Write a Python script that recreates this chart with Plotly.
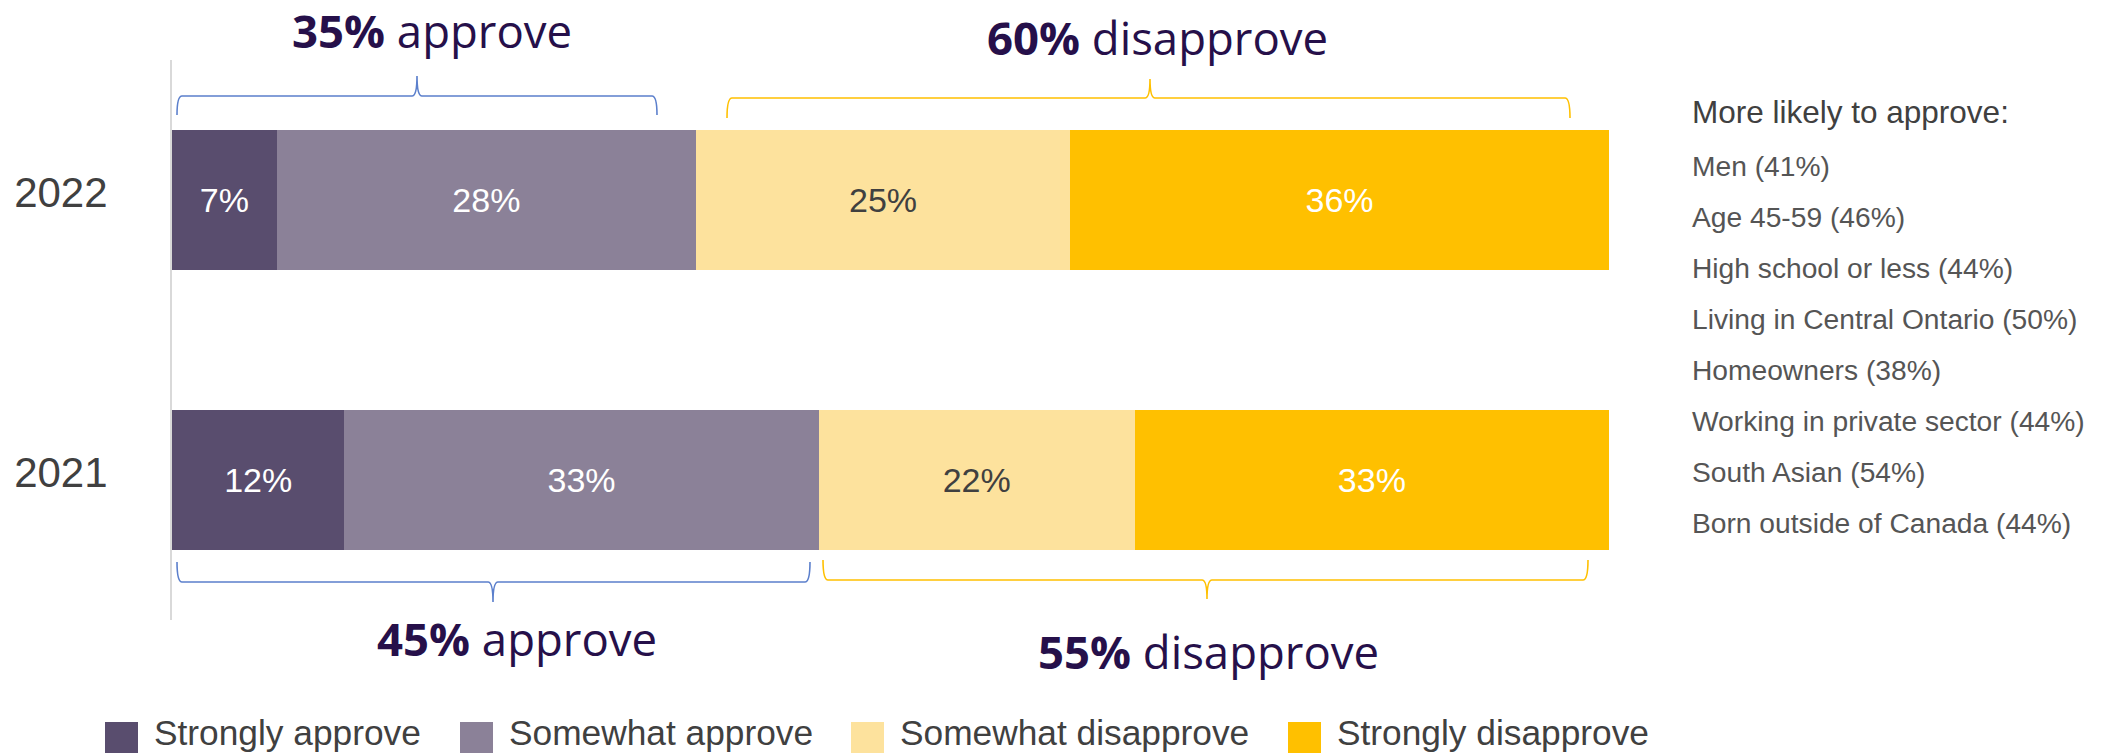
import plotly.graph_objects as go

# ---------------- data ----------------
years = ["2022", "2021"]
series_names = ["Strongly approve", "Somewhat approve", "Somewhat disapprove", "Strongly disapprove"]
strongly_approve = [7, 12]
somewhat_approve = [28, 33]
somewhat_disapprove = [25, 22]
strongly_disapprove = [36, 33]
series_values = [strongly_approve, somewhat_approve, somewhat_disapprove, strongly_disapprove]

summary_top = ["35%", "approve", "60%", "disapprove"]       # 2022
summary_bottom = ["45%", "approve", "55%", "disapprove"]    # 2021

likely_header = "More likely to approve:"
likely_items = [
    "Men (41%)",
    "Age 45-59 (46%)",
    "High school or less (44%)",
    "Living in Central Ontario (50%)",
    "Homeowners (38%)",
    "Working in private sector (44%)",
    "South Asian (54%)",
    "Born outside of Canada (44%)",
]

# ---------------- style ----------------
colors = ["#594D6E", "#8B8198", "#FDE29D", "#FFC000"]
text_colors = ["#FFFFFF", "#FFFFFF", "#404040", "#FFFFFF"]
PURPLE = "#26104A"
BLUE = "#5B7FCC"
YELLOW = "#FFC000"
GRAY = "#404040"
BASE_FONT = "Arial, Liberation Sans, sans-serif"
TITLE_FONT = "Open Sans, sans-serif"

W, H = 2104, 754
L, R, T, B = 172, 495, 60, 134
PW, PH = W - L - R, H - T - B


def px(x):
    return (x - L) / PW


def py(y):
    return (H - B - y) / PH


fig = go.Figure()
for name, vals, col, tcol in zip(series_names, series_values, colors, text_colors):
    fig.add_trace(go.Bar(
        y=years, x=vals, name=name, orientation="h",
        marker=dict(color=col, line=dict(width=0)),
        text=[f"{v}%" for v in vals],
        textposition="inside", insidetextanchor="middle", textangle=0,
        constraintext="none",
        textfont=dict(family=BASE_FONT, size=34, color=tcol),
        showlegend=False, hoverinfo="skip",
    ))


# ---------------- braces ----------------
def brace(x0, x1, xm, y_end, y_h, y_peak, color):
    r = 5
    pts = [
        f"M {px(x0)},{py(y_end)}",
        f"Q {px(x0)},{py(y_h)} {px(x0 + r)},{py(y_h)}",
        f"L {px(xm - r)},{py(y_h)}",
        f"Q {px(xm)},{py(y_h)} {px(xm)},{py(y_peak)}",
        f"Q {px(xm)},{py(y_h)} {px(xm + r)},{py(y_h)}",
        f"L {px(x1 - r)},{py(y_h)}",
        f"Q {px(x1)},{py(y_h)} {px(x1)},{py(y_end)}",
    ]
    return dict(type="path", xref="paper", yref="paper", path=" ".join(pts),
                line=dict(color=color, width=1.6))


shapes = [
    brace(177, 657, 417, 115, 96, 76, BLUE),
    brace(727, 1570, 1150, 118, 98, 79, YELLOW),
    brace(177, 810, 493, 562, 582, 602, BLUE),
    brace(823, 1588, 1207, 560, 580, 599, YELLOW),
]

annotations = []


def big_label(num, word, xc, yc):
    annotations.append(dict(
        xref="paper", yref="paper", x=px(xc), y=py(yc), xanchor="center", yanchor="middle",
        text=f"<b>{num}</b> {word}", showarrow=False,
        font=dict(family=TITLE_FONT, size=45.5, color=PURPLE),
    ))


big_label(summary_top[0], summary_top[1], 432, 30)
big_label(summary_top[2], summary_top[3], 1157, 37)
big_label(summary_bottom[0], summary_bottom[1], 517, 638)
big_label(summary_bottom[2], summary_bottom[3], 1208, 651)

# right-hand list
annotations.append(dict(
    xref="paper", yref="paper", x=px(1690), y=py(112), xanchor="left", yanchor="middle",
    text=likely_header, showarrow=False,
    font=dict(family=BASE_FONT, size=31.5, color=GRAY),
))
for i, item in enumerate(likely_items):
    annotations.append(dict(
        xref="paper", yref="paper", x=px(1690), y=py(166 + i * 51), xanchor="left", yanchor="middle",
        text=item, showarrow=False,
        font=dict(family=BASE_FONT, size=28.2, color="#555555"),
    ))

# manual legend
legend_x = [105, 460, 851, 1288]
for name, col, lx in zip(series_names, colors, legend_x):
    shapes.append(dict(type="rect", xref="paper", yref="paper",
                       x0=px(lx), x1=px(lx + 33), y0=py(753), y1=py(722),
                       fillcolor=col, line=dict(width=0)))
    annotations.append(dict(
        xref="paper", yref="paper", x=px(lx + 47), y=py(754), xanchor="left", yanchor="bottom",
        text=name, showarrow=False,
        font=dict(family=BASE_FONT, size=35.3, color=GRAY),
    ))

fig.update_layout(
    width=W, height=H,
    margin=dict(l=L, r=R, t=T, b=B),
    barmode="stack", barnorm="percent", bargap=0.5,
    plot_bgcolor="white", paper_bgcolor="white",
    xaxis=dict(range=[0, 100], visible=False, fixedrange=True),
    yaxis=dict(autorange="reversed", showline=True, linecolor="#D9D9D9", linewidth=2,
               showgrid=False, zeroline=False, ticks="", ticklabelstandoff=54,
               ticklabelshift=8,
               tickfont=dict(family=BASE_FONT, size=42, color=GRAY)),
    shapes=shapes, annotations=annotations,
    showlegend=False,
)

fig.write_html(
    "out.html",
    config={"displayModeBar": False},
    post_script="document.body.style.margin='0px';document.body.style.overflow='hidden';",
)
